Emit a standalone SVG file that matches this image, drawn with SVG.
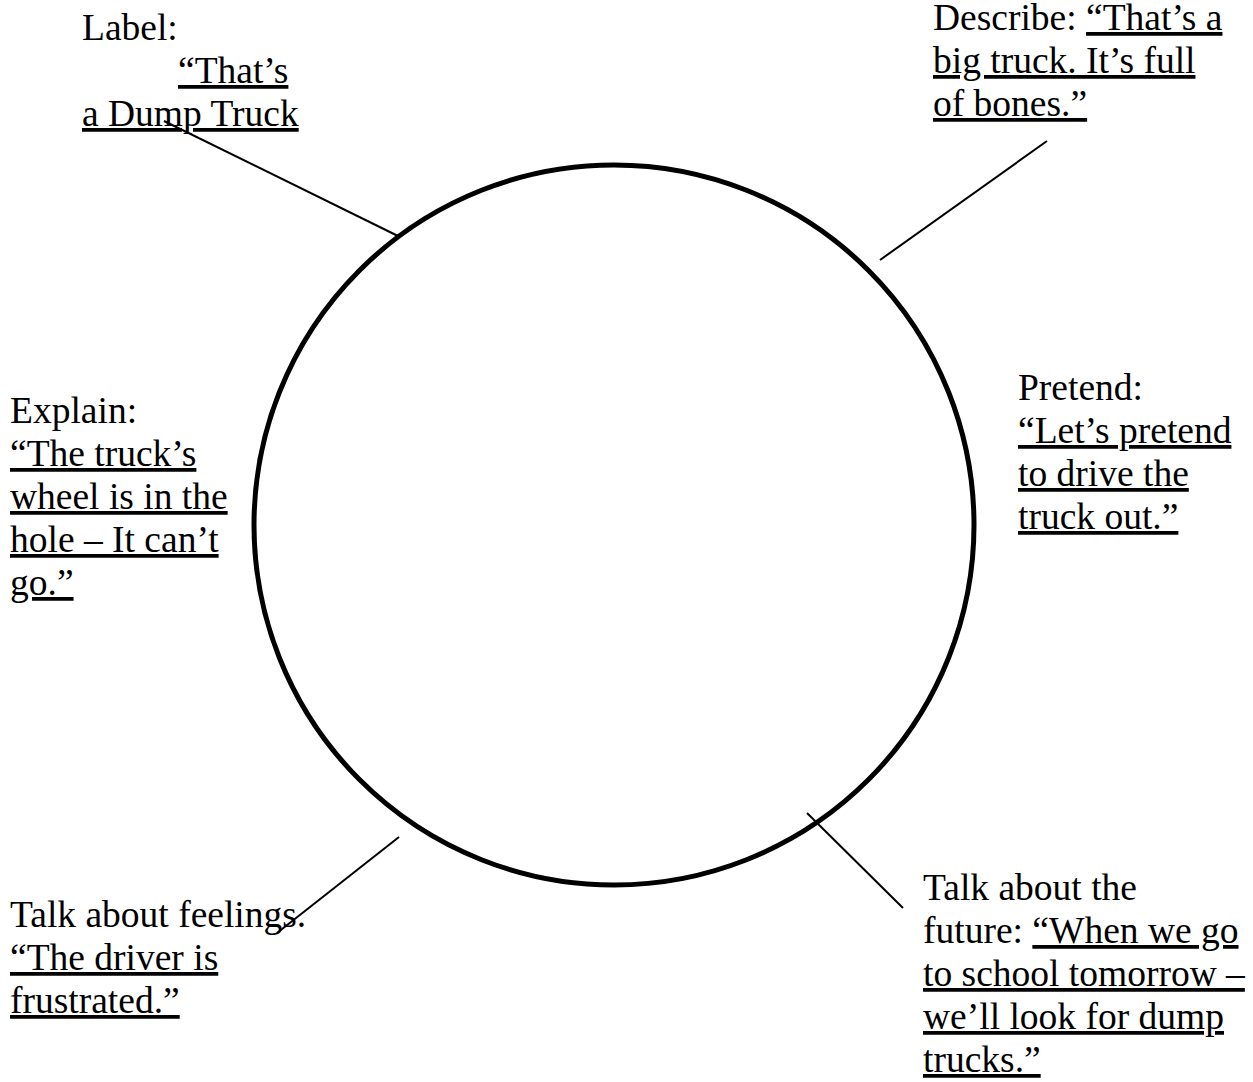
<svg xmlns="http://www.w3.org/2000/svg" width="1253" height="1082" viewBox="0 0 1253 1082">
<style>
text{font-family:"Liberation Serif","Times New Roman",serif;font-size:37.5px;fill:#000}
.u{text-decoration:underline;text-decoration-skip-ink:none}
.conn line{stroke:#000;stroke-width:2}
</style>
<rect width="1253" height="1082" fill="#fff"/>
<g id="center"><circle cx="614" cy="525" r="360" fill="none" stroke="#000" stroke-width="5"/></g>
<g id="connectors" class="conn">
<line x1="164" y1="121" x2="398" y2="236"/>
<line x1="1047" y1="141" x2="880" y2="260"/>
<line x1="277" y1="933" x2="399" y2="837"/>
<line x1="807" y1="813" x2="903" y2="908"/>
</g>
<g id="label-node"><text x="82" y="40">Label:</text><text x="178" y="83" class="u">“That’s</text><text x="82" y="126" class="u">a Dump Truck</text></g>
<g id="describe-node"><text x="933" y="30">Describe: <tspan class="u">“That’s a</tspan></text><text x="933" y="73" class="u">big truck. It’s full</text><text x="933" y="116" class="u">of bones.”</text></g>
<g id="explain-node"><text x="10" y="423">Explain:</text><text x="10" y="466" class="u">“The truck’s</text><text x="10" y="509" class="u">wheel is in the</text><text x="10" y="552" class="u">hole – It can’t</text><text x="10" y="595" class="u">go.”</text></g>
<g id="pretend-node"><text x="1018" y="400">Pretend:</text><text x="1018" y="443" class="u">“Let’s pretend</text><text x="1018" y="486" class="u">to drive the</text><text x="1018" y="529" class="u">truck out.”</text></g>
<g id="feelings-node"><text x="10" y="927">Talk about feelings.</text><text x="10" y="970" class="u">“The driver is</text><text x="10" y="1013" class="u">frustrated.”</text></g>
<g id="future-node"><text x="923" y="900">Talk about the</text><text x="923" y="943">future: <tspan class="u">“When we go</tspan></text><text x="923" y="986" class="u">to school tomorrow –</text><text x="923" y="1029" class="u">we’ll look for dump</text><text x="923" y="1072" class="u">trucks.”</text></g>
</svg>
